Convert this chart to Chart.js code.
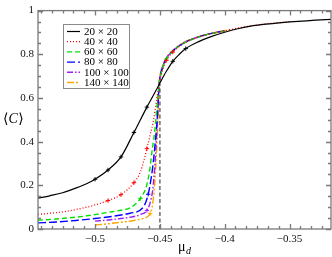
<!DOCTYPE html>
<html>
<head>
<meta charset="utf-8">
<script src="https://cdn.jsdelivr.net/npm/chart.js@4/dist/chart.umd.min.js"></script>
<style>
  html, body { margin: 0; padding: 0; background: #fff; }
</style>
</head>
<body>
<canvas id="chart" width="332" height="257"></canvas>
<script>
// series labels (lattice sizes)
const seriesLabels = ['20 \u00d7 20', '40 \u00d7 40', '60 \u00d7 60', '80 \u00d7 80', '100 \u00d7 100', '140 \u00d7 140'];

// mu_d values and <C> values
const x20 = [-0.544, -0.535, -0.525, -0.515, -0.505, -0.5, -0.49, -0.48, -0.47, -0.46, -0.455, -0.45, -0.445, -0.44, -0.435, -0.43, -0.42, -0.41, -0.4, -0.39, -0.38, -0.37, -0.36, -0.35, -0.34, -0.33, -0.318];
const y20 = [0.141, 0.152, 0.166, 0.187, 0.212, 0.228, 0.27, 0.33, 0.442, 0.558, 0.612, 0.668, 0.722, 0.768, 0.8, 0.826, 0.858, 0.882, 0.901, 0.917, 0.929, 0.937, 0.943, 0.948, 0.952, 0.956, 0.96];

const x40 = [-0.544, -0.53, -0.52, -0.51, -0.5, -0.49, -0.48, -0.47, -0.465, -0.4625, -0.46, -0.4575, -0.455, -0.4525, -0.4505, -0.448, -0.445, -0.44, -0.435, -0.43, -0.42, -0.41, -0.4, -0.39, -0.38, -0.37, -0.36, -0.35];
const y40 = [0.067, 0.075, 0.083, 0.095, 0.11, 0.13, 0.157, 0.212, 0.262, 0.31, 0.368, 0.43, 0.495, 0.59, 0.665, 0.725, 0.772, 0.81, 0.836, 0.855, 0.879, 0.895, 0.907, 0.92, 0.93, 0.938, 0.944, 0.949];

const x60 = [-0.544, -0.53, -0.515, -0.5, -0.49, -0.48, -0.473, -0.465, -0.46, -0.4577, -0.4564, -0.455, -0.4538, -0.452, -0.4505, -0.448, -0.445, -0.44, -0.435, -0.43, -0.42, -0.41, -0.4];
const y60 = [0.04, 0.046, 0.054, 0.066, 0.076, 0.086, 0.097, 0.14, 0.204, 0.275, 0.34, 0.4, 0.457, 0.576, 0.665, 0.735, 0.778, 0.813, 0.838, 0.856, 0.879, 0.895, 0.906];

const x80 = [-0.544, -0.53, -0.515, -0.5, -0.49, -0.48, -0.473, -0.4628, -0.459, -0.4564, -0.455, -0.4535, -0.452, -0.4505, -0.448, -0.445, -0.44, -0.435, -0.43, -0.42, -0.41, -0.4];
const y80 = [0.028, 0.032, 0.039, 0.048, 0.055, 0.064, 0.072, 0.1, 0.159, 0.245, 0.31, 0.4, 0.51, 0.665, 0.738, 0.78, 0.815, 0.839, 0.857, 0.88, 0.896, 0.907];

const x100 = [-0.5, -0.49, -0.48, -0.47, -0.465, -0.46, -0.4575, -0.4555, -0.454, -0.4525, -0.4505, -0.448, -0.445, -0.44, -0.435, -0.43, -0.42, -0.41, -0.4];
const y100 = [0.036, 0.041, 0.048, 0.057, 0.066, 0.085, 0.12, 0.18, 0.28, 0.43, 0.665, 0.74, 0.782, 0.816, 0.84, 0.857, 0.88, 0.896, 0.907];

const x140 = [-0.5, -0.49, -0.48, -0.47, -0.465, -0.46, -0.4575, -0.456, -0.4545, -0.453, -0.4515, -0.4505, -0.448, -0.445, -0.44, -0.435, -0.43, -0.42, -0.41, -0.4, -0.395];
const y140 = [0.018, 0.024, 0.031, 0.039, 0.045, 0.055, 0.07, 0.1, 0.17, 0.3, 0.5, 0.665, 0.742, 0.785, 0.818, 0.842, 0.859, 0.881, 0.897, 0.908, 0.913];

// points that carry error-bar marks
const marks20 = [-0.5, -0.49, -0.48, -0.47, -0.46, -0.44, -0.43];
const marks40 = [-0.49, -0.48, -0.47, -0.46, -0.445, -0.44];
const marks60 = [-0.465, -0.445];
const marks80 = [-0.459];
const marks100 = [-0.46];
const marks140 = [-0.4575];

// critical point marker (vertical dashed line)
const critX = [-0.45, -0.45];
const critY = [0, 0.665];

// axes
const xRange = [-0.544, -0.318];
const yRange = [0, 1];
const xTicks = [-0.5, -0.45, -0.4, -0.35];
const yTicks = [0, 0.2, 0.4, 0.6, 0.8, 1];

const seriesX = [x20, x40, x60, x80, x100, x140];
const seriesY = [y20, y40, y60, y80, y100, y140];
const seriesMarks = [marks20, marks40, marks60, marks80, marks100, marks140];
const seriesColors = ['#000000', '#ff0000', '#00e000', '#0000ff', '#a020f0', '#ffa500'];
const seriesDash = [[], [1, 2], [5, 3], [8, 3], [6, 2, 1.5, 2], [7, 2, 2, 2, 2, 2]];
const seriesWidth = [1.2, 1.3, 1.4, 1.4, 1.4, 1.4];

const axisColor = '#7a7a7a';
const serif = "'Liberation Serif', 'DejaVu Serif', serif";

const toPoints = (xs, ys) => xs.map((x, i) => ({x: x, y: ys[i]}));
const minusLabel = (v) => String(v).replace('-', '\u2212');

const datasets = seriesLabels.map((label, i) => ({
  label: label,
  data: toPoints(seriesX[i], seriesY[i]),
  borderColor: seriesColors[i],
  backgroundColor: seriesColors[i],
  borderWidth: seriesWidth[i],
  borderDash: seriesDash[i],
  cubicInterpolationMode: 'monotone',
  pointStyle: 'cross',
  pointBorderWidth: 1,
  pointRadius: (ctx) => (ctx.raw && seriesMarks[i].includes(ctx.raw.x)) ? 2.2 : 0,
  fill: false
}));

datasets.push({
  label: 'crit',
  data: toPoints(critX, critY),
  borderColor: '#808080',
  borderWidth: 1.8,
  borderDash: [4, 2.5],
  pointRadius: 0,
  fill: false,
  order: 10
});

// box frame with inward ticks on all four sides, axis titles, legend
const framePlugin = {
  id: 'frame',
  afterDraw(chart) {
    const {ctx, chartArea: a, scales: {x, y}} = chart;
    ctx.save();
    ctx.strokeStyle = axisColor;
    ctx.lineWidth = 1.3;
    ctx.beginPath();
    // x ticks: majors every 0.05, five minors between
    const xStep = 0.05 / 6;
    for (let k = -6; k <= 30; k++) {
      const v = xTicks[0] + k * xStep;
      if (v < xRange[0] || v > xRange[1]) continue;
      const px = Math.round(x.getPixelForValue(v)) + 0.5;
      const len = (k % 6 === 0) ? 5 : 3;
      ctx.moveTo(px, a.bottom); ctx.lineTo(px, a.bottom - len);
      ctx.moveTo(px, a.top); ctx.lineTo(px, a.top + len);
    }
    // y ticks: majors every 0.2, minors every 0.05
    for (let k = 0; k <= 20; k++) {
      const py = Math.round(y.getPixelForValue(k * 0.05)) + 0.5;
      const len = (k % 4 === 0) ? 5 : 3;
      ctx.moveTo(a.left, py); ctx.lineTo(a.left + len, py);
      ctx.moveTo(a.right, py); ctx.lineTo(a.right - len, py);
    }
    ctx.stroke();
    ctx.strokeRect(a.left, a.top, a.right - a.left, a.bottom - a.top);

    // axis titles
    ctx.fillStyle = '#000';
    ctx.textBaseline = 'alphabetic';
    ctx.font = '14px ' + serif;
    let tx = 3;
    const ty = 123;
    ctx.fillText('\u27e8', tx, ty); tx += ctx.measureText('\u27e8').width;
    ctx.font = 'italic 14px ' + serif;
    ctx.fillText('C', tx, ty); tx += ctx.measureText('C').width + 0.5;
    ctx.font = '14px ' + serif;
    ctx.fillText('\u27e9', tx, ty);

    ctx.font = '14px ' + serif;
    ctx.fillText('\u03bc', 178, 251);
    ctx.font = 'italic 10px ' + serif;
    ctx.fillText('d', 186, 254);

    // legend
    const lx = 63, ly = 24, lw = 66, lh = 64;
    ctx.fillStyle = '#fff';
    ctx.fillRect(lx, ly, lw, lh);
    ctx.strokeStyle = '#8a8a8a';
    ctx.lineWidth = 1;
    ctx.strokeRect(lx + 0.5, ly + 0.5, lw, lh);
    ctx.font = '11px ' + serif;
    ctx.textBaseline = 'middle';
    seriesLabels.forEach((label, i) => {
      const cy = ly + 7.5 + i * 10.2;
      ctx.beginPath();
      ctx.strokeStyle = seriesColors[i];
      ctx.lineWidth = seriesWidth[i];
      ctx.setLineDash(seriesDash[i]);
      ctx.moveTo(67, cy); ctx.lineTo(80, cy);
      ctx.stroke();
      ctx.setLineDash([]);
      ctx.fillStyle = '#000';
      ctx.fillText(label, 84, cy + 0.5);
    });
    ctx.restore();
  }
};

const chart = new Chart(document.getElementById('chart'), {
  type: 'line',
  data: {datasets: datasets},
  options: {
    responsive: false,
    animation: false,
    events: [],
    devicePixelRatio: 1,
    layout: {padding: {top: 5, right: 1, left: 0, bottom: 0}},
    plugins: {legend: {display: false}, tooltip: {enabled: false}},
    scales: {
      x: {
        type: 'linear',
        min: xRange[0],
        max: xRange[1],
        afterBuildTicks: (s) => { s.ticks = xTicks.map(v => ({value: v})); },
        afterFit: (s) => { s.height = 28; },
        grid: {display: false, drawTicks: false},
        border: {display: false},
        ticks: {
          autoSkip: false, maxRotation: 0, padding: 4,
          color: '#111', font: {family: serif, size: 11},
          callback: minusLabel
        }
      },
      y: {
        type: 'linear',
        min: yRange[0],
        max: yRange[1],
        afterBuildTicks: (s) => { s.ticks = yTicks.map(v => ({value: v})); },
        afterFit: (s) => { s.width = 38; },
        grid: {display: false, drawTicks: false},
        border: {display: false},
        ticks: {
          autoSkip: false, padding: 4,
          color: '#111', font: {family: serif, size: 11},
          callback: (v) => String(v)
        }
      }
    }
  },
  plugins: [framePlugin]
});
</script>
</body>
</html>
